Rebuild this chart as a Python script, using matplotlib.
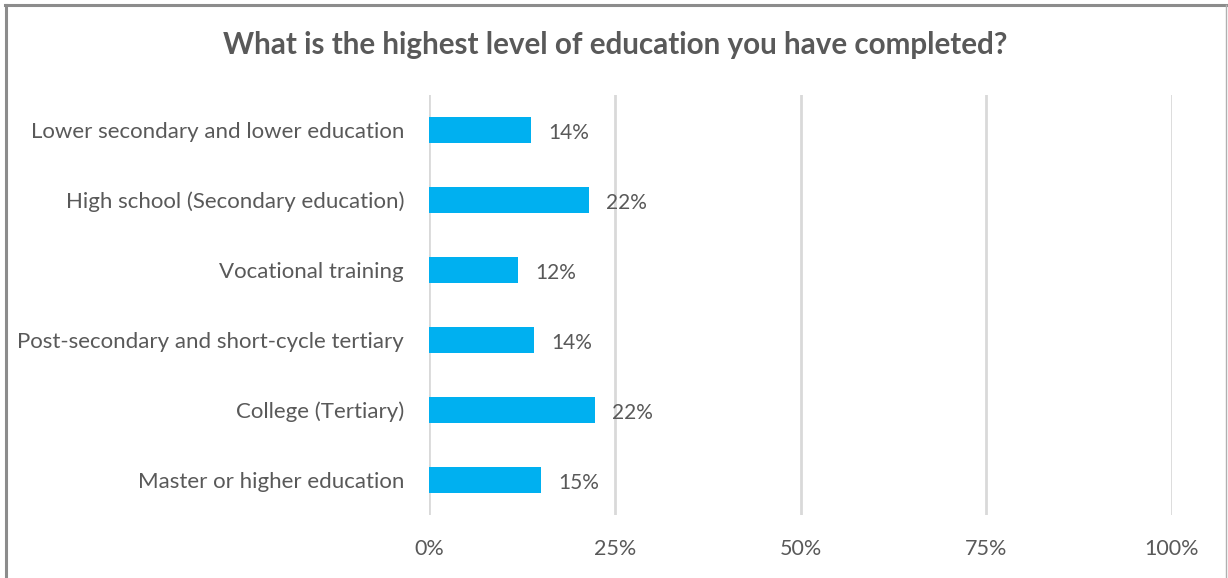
import matplotlib
matplotlib.use("Agg")
import matplotlib.pyplot as plt
from matplotlib.lines import Line2D

categories = [
    "Lower secondary and lower education",
    "High school (Secondary education)",
    "Vocational training",
    "Post-secondary and short-cycle tertiary",
    "College (Tertiary)",
    "Master or higher education",
]
shares = [13.7, 21.5, 12.0, 14.1, 22.3, 15.1]
xticks = [0, 25, 50, 75, 100]
xtick_labels = ["0%", "25%", "50%", "75%", "100%"]
title = "What is the highest level of education you have completed?"

text_color = "#595959"
bar_color = "#00B0F0"
grid_color = "#D9D9D9"

plt.rcParams["font.family"] = ["Lato", "DejaVu Sans"]

W, H = 1228, 578
fig = plt.figure(figsize=(W / 100, H / 100), dpi=100)
ax = fig.add_axes([429 / W, 1 - 515 / H, (1172 - 429) / W, (515 - 95) / H])

ypos = list(range(len(categories)))
ax.barh(ypos, shares, height=0.385, color=bar_color, zorder=3)
for y, v in zip(ypos, shares):
    ax.annotate(f"{v:.0f}%", (v, y), xytext=(12.5, -2), textcoords="offset points",
                ha="left", va="center", fontsize=15, color=text_color)

ax.set_xlim(0, 100)
ax.set_ylim(len(categories) - 0.5, -0.5)
ax.set_yticks(ypos)
ax.set_yticklabels(categories, fontsize=16, color=text_color)
ax.set_xticks(xticks)
ax.set_xticklabels(xtick_labels, fontsize=15.5, color=text_color)
ax.tick_params(axis="both", length=0)
ax.tick_params(axis="y", pad=18)
ax.tick_params(axis="x", pad=17)
ax.grid(axis="x", color=grid_color, linewidth=2, zorder=0)
for s in ax.spines.values():
    s.set_visible(False)

fig.text(615 / W, 1 - 45 / H, title, ha="center", va="center",
         fontsize=21.3, fontweight="bold", color=text_color)

# outer chart frame (left, top, right edges)
fig.add_artist(Line2D([6 / W, 6 / W], [0, 1 - 5 / H], transform=fig.transFigure,
                      color="#8C8C8C", linewidth=2.2))
fig.add_artist(Line2D([5 / W, 1226 / W], [1 - 5 / H, 1 - 5 / H], transform=fig.transFigure,
                      color="#8C8C8C", linewidth=2.2))
fig.add_artist(Line2D([1226 / W, 1226 / W], [0, 1 - 5 / H], transform=fig.transFigure,
                      color="#B0B0B0", linewidth=1))

fig.savefig("out.png", dpi=100)
